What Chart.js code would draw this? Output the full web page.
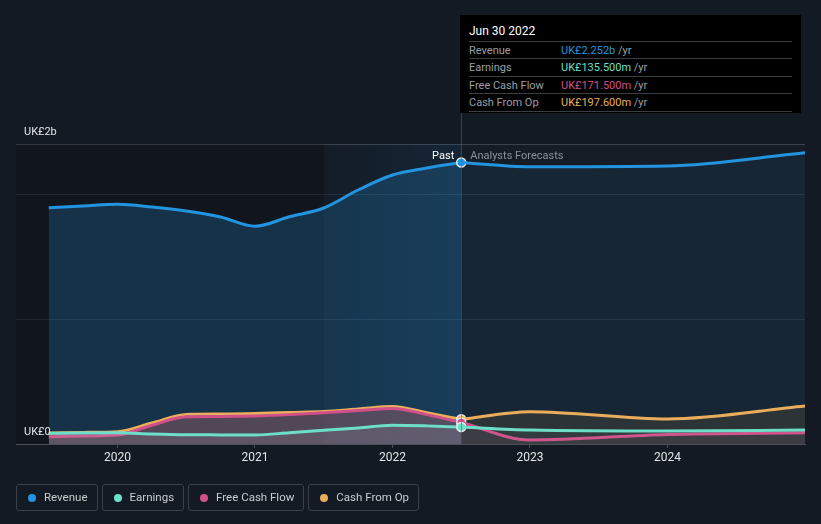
<!DOCTYPE html>
<html>
<head>
<meta charset="utf-8">
<script src="https://cdn.jsdelivr.net/npm/chart.js@4/dist/chart.umd.min.js"></script>
<style>
  html, body { margin: 0; padding: 0; background: #141a23; }
  body { width: 821px; height: 524px; position: relative; overflow: hidden; font-family: Roboto, "Open Sans", sans-serif; }
  #chart { position: absolute; left: 0; top: 0; }
  .tip { position: absolute; left: 460px; top: 15px; width: 341px; height: 98px; background: #000; color: #fff; font-size: 11px; }
  .tip .title { position: absolute; left: 9px; top: 9px; font-size: 12px; color: #fff; }
  .tip .row { position: absolute; left: 9px; width: 323px; height: 17px; border-top: 1px solid #3a3d42; line-height: 17px; color: #9a9fa6; }
  .tip .row .v { position: absolute; left: 92px; }
  .tip .row .u { color: #9a9fa6; }
  .legend { position: absolute; left: 16px; top: 484px; display: flex; gap: 4px; }
  .legend .item { border: 1px solid #3a404a; border-radius: 3px; box-sizing: border-box; height: 27px; padding: 0 9px 0 27px; position: relative; font-size: 11.5px; color: #c9cdd2; line-height: 25px; }
  .legend .item i { position: absolute; left: 11px; top: 9px; width: 8px; height: 8px; border-radius: 50%; }
</style>
</head>
<body>
<canvas id="chart" width="821" height="524"></canvas>

<div class="tip">
  <div class="title">Jun 30 2022</div>
  <div class="row" style="top:26px">Revenue<span class="v" style="color:#2394df">UK£2.252b <span class="u">/yr</span></span></div>
  <div class="row" style="top:43px">Earnings<span class="v" style="color:#6ddfc8">UK£135.500m <span class="u">/yr</span></span></div>
  <div class="row" style="top:61px">Free Cash Flow<span class="v" style="color:#d1508a">UK£171.500m <span class="u">/yr</span></span></div>
  <div class="row" style="top:78px; border-bottom:1px solid #3a3d42">Cash From Op<span class="v" style="color:#e9ad5c">UK£197.600m <span class="u">/yr</span></span></div>
</div>

<div class="legend">
  <div class="item"><i style="background:#2394df"></i>Revenue</div>
  <div class="item"><i style="background:#6ddfc8"></i>Earnings</div>
  <div class="item"><i style="background:#d1508a"></i>Free Cash Flow</div>
  <div class="item"><i style="background:#e9ad5c"></i>Cash From Op</div>
</div>

<script>
(function () {
  "use strict";

  // Colors
  const c_revenue  = '#2394df';
  const c_earnings = '#6ddfc8';
  const c_fcf      = '#d1508a';
  const c_cfo      = '#e9ad5c';

  // Data (UK£ billions, x = decimal year)
  const pastYears     = [2019.5, 2019.75, 2020.0, 2020.25, 2020.5, 2020.75, 2021.0, 2021.25, 2021.5, 2021.75, 2022.0, 2022.25, 2022.5];
  const forecastYears = [2022.5, 2023.0, 2024.0, 2025.0];

  const revenuePast      = [1.890, 1.904, 1.918, 1.896, 1.864, 1.816, 1.742, 1.818, 1.888, 2.032, 2.152, 2.208, 2.252];
  const revenueForecast  = [2.252, 2.218, 2.224, 2.330];
  const earningsPast     = [0.085, 0.088, 0.090, 0.080, 0.074, 0.073, 0.072, 0.090, 0.110, 0.128, 0.150, 0.145, 0.1355];
  const earningsForecast = [0.1355, 0.112, 0.104, 0.112];
  const fcfPast          = [0.058, 0.064, 0.072, 0.150, 0.218, 0.220, 0.224, 0.235, 0.250, 0.268, 0.285, 0.235, 0.1715];
  const fcfForecast      = [0.1715, 0.032, 0.076, 0.090];
  const cfoPast          = [0.088, 0.093, 0.099, 0.168, 0.237, 0.240, 0.244, 0.252, 0.260, 0.280, 0.300, 0.250, 0.1976];
  const cfoForecast      = [0.1976, 0.259, 0.200, 0.304];

  const xTicks = [2020, 2021, 2022, 2023, 2024];
  const yGrid  = [0, 1, 2, 2.4];
  const yLabels = [{ value: 2.4, text: 'UK£2b' }, { value: 0, text: 'UK£0' }];
  const nowYear = 2022.5;
  const highlightFrom = 2021.5;

  function pts(xs, ys) {
    return xs.map((x, i) => ({ x: x, y: ys[i] }));
  }

  function series(label, xs, ys, color, fill, order, isPast) {
    const last = ys.length - 1;
    return {
      label: label,
      data: pts(xs, ys),
      borderColor: color,
      backgroundColor: fill,
      borderWidth: 3,
      fill: 'origin',
      cubicInterpolationMode: 'monotone',
      order: order,
      pointRadius: isPast ? ys.map((v, i) => i === last ? 4.5 : 0) : 0,
      pointBackgroundColor: color,
      pointBorderColor: '#e6edf5',
      pointBorderWidth: 1.5
    };
  }

  // Background bands, labels, now line
  const decor = {
    id: 'decor',
    beforeDatasetsDraw(chart) {
      const { ctx, chartArea: a, scales: { x } } = chart;
      const xh = x.getPixelForValue(highlightFrom);
      const xn = x.getPixelForValue(nowYear);
      ctx.save();
      ctx.fillStyle = 'rgba(0,0,0,0.12)';
      ctx.fillRect(a.left, a.top, xh - a.left, a.bottom - a.top);
      const g = ctx.createLinearGradient(xh, 0, xn, 0);
      g.addColorStop(0, 'rgba(35,148,223,0.02)');
      g.addColorStop(1, 'rgba(35,148,223,0.10)');
      ctx.fillStyle = g;
      ctx.fillRect(xh, a.top, xn - xh, a.bottom - a.top);
      ctx.fillStyle = 'rgba(255,255,255,0.012)';
      ctx.fillRect(xn, a.top, a.right - xn, a.bottom - a.top);
      ctx.restore();
    },
    afterDatasetsDraw(chart) {
      const { ctx, chartArea: a, scales: { x, y } } = chart;
      const xn = x.getPixelForValue(nowYear);
      ctx.save();
      ctx.strokeStyle = 'rgba(45,110,150,0.55)';
      ctx.lineWidth = 1;
      ctx.beginPath();
      ctx.moveTo(Math.round(xn) + 0.5, 15);
      ctx.lineTo(Math.round(xn) + 0.5, a.bottom);
      ctx.stroke();

      ctx.font = '11px Roboto, sans-serif';
      ctx.textBaseline = 'middle';
      ctx.textAlign = 'right';
      ctx.fillStyle = '#ffffff';
      ctx.fillText('Past', xn - 7, a.top + 12);
      ctx.textAlign = 'left';
      ctx.fillStyle = '#8b9199';
      ctx.fillText('Analysts Forecasts', xn + 9, a.top + 12);

      ctx.fillStyle = '#e2e5e9';
      yLabels.forEach(l => {
        ctx.fillText(l.text, a.left + 8, y.getPixelForValue(l.value) - 12);
      });
      ctx.restore();
    }
  };

  const chart_el = document.getElementById('chart');
  const ctx = chart_el.getContext('2d');
  const LineChart = new Chart(ctx, {
    type: 'line',
    data: {
      datasets: [
        series('Revenue', pastYears, revenuePast, c_revenue, 'rgba(35,148,223,0.22)', 8, true),
        series('Revenue forecast', forecastYears, revenueForecast, c_revenue, 'rgba(35,148,223,0.09)', 7, false),
        series('Cash From Op', pastYears, cfoPast, c_cfo, 'rgba(233,173,92,0.16)', 6, true),
        series('Cash From Op forecast', forecastYears, cfoForecast, c_cfo, 'rgba(233,173,92,0.10)', 5, false),
        series('Free Cash Flow', pastYears, fcfPast, c_fcf, 'rgba(209,80,138,0.18)', 4, true),
        series('Free Cash Flow forecast', forecastYears, fcfForecast, c_fcf, 'rgba(209,80,138,0.06)', 3, false),
        series('Earnings', pastYears, earningsPast, c_earnings, 'rgba(190,200,210,0.12)', 2, true),
        series('Earnings forecast', forecastYears, earningsForecast, c_earnings, 'rgba(190,200,210,0.05)', 1, false)
      ]
    },
    options: {
      responsive: false,
      animation: false,
      layout: {
        padding: { left: 16, right: 16, top: 144, bottom: 50 }
      },
      scales: {
        x: {
          type: 'linear',
          min: 2019.262,
          max: 2025,
          afterBuildTicks: (scale) => { scale.ticks = xTicks.map(v => ({ value: v })); },
          afterFit: (scale) => { scale.height = 30; },
          border: { display: true, color: '#4b5058', width: 1 },
          grid: { drawOnChartArea: false, drawTicks: true, tickLength: 4, color: '#4b5058' },
          ticks: {
            color: '#e2e5e9',
            font: { family: 'Roboto', size: 12 },
            padding: 3,
            maxRotation: 0,
            callback: (value) => String(value)
          }
        },
        y: {
          min: 0,
          max: 2.4,
          afterBuildTicks: (scale) => { scale.ticks = yGrid.map(v => ({ value: v })); },
          afterFit: (scale) => { scale.width = 0; },
          border: { display: false },
          grid: {
            drawTicks: false,
            color: (c) => c.tick.value === 2.4 ? '#3b4048' : (c.tick.value === 0 ? 'rgba(0,0,0,0)' : '#262d38')
          },
          ticks: { display: false }
        }
      },
      plugins: {
        legend: { display: false },
        tooltip: { enabled: false }
      }
    },
    plugins: [decor]
  });
})();
</script>
</body>
</html>
